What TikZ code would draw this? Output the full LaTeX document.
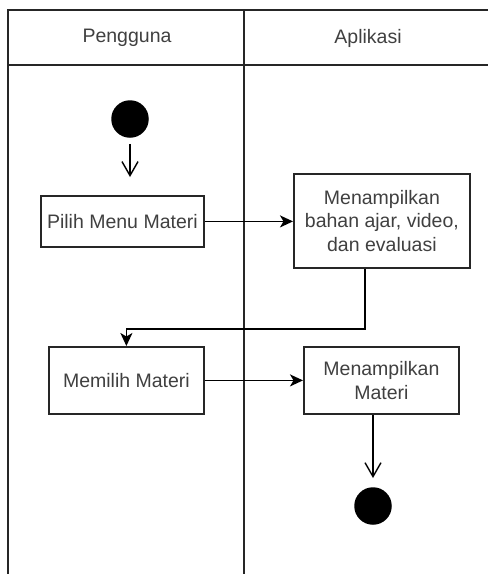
\documentclass[tikz,border=0pt]{standalone}
\usepackage{fontspec}
\setmainfont{Liberation Sans}
\usetikzlibrary{arrows.meta}
\begin{document}
\begin{tikzpicture}[x=1pt,y=-1pt,
  lane/.style={line width=1.8pt, draw=black!85},
  lanehead/.style={font=\fontsize{19.5}{23}\selectfont, text=black!75, inner sep=0pt},
  action/.style={draw=black!85, line width=1.8pt, fill=white, align=center,
    font=\fontsize{19.5}{23.5}\selectfont, text=black!75, inner sep=0pt, anchor=north west},
  dot/.style={circle, fill=black, inner sep=0pt, minimum size=37.5pt},
  flow/.style={line width=1.5pt, -{Stealth[length=13pt,width=12pt,inset=3.5pt]}},
  openflow/.style={line width=1.4pt, -{Straight Barb[length=14pt,width=16pt,line width=1.4pt]}}
]
\clip (0,0) rectangle (488,574);
\fill[white] (0,0) rectangle (488,574);

% swimlane frame
\draw[lane] (8,600) -- (8,10) -- (500,10);
\draw[lane] (8,65) -- (500,65);
\draw[lane] (244,10) -- (244,600);
\node[lanehead] (hUser) at (127,38) {Pengguna};
\node[lanehead] (hApp) at (368,38) {Aplikasi};

% start and end
\node[dot] (start) at (130,119) {};
\node[dot] (stop) at (373,506) {};

% actions
\node[action, minimum width=163pt, minimum height=51pt] (b1) at (40,195) {Pilih Menu Materi};
\node[action, minimum width=176pt, minimum height=94pt] (b2) at (293,173) {Menampilkan\\bahan ajar, video,\\dan evaluasi};
\node[action, minimum width=155pt, minimum height=67pt] (b3) at (48,346) {Memilih Materi};
\node[action, minimum width=155pt, minimum height=67pt] (b4) at (303,346) {Menampilkan\\Materi};

% flows
\draw[openflow, shorten <=6pt, shorten >=18pt] (start.south) -- (start.south |- b1.north);
\draw[flow] (b1.east) -- (b1.east -| b2.west);
\draw[flow] ([xshift=-17pt]b2.south) |- ([yshift=17pt]b3.north) -- (b3.north);
\draw[flow] (b3.east) -- (b4.west);
\draw[openflow, shorten >=9pt] (b4.south -| stop.north) -- (stop.north);
\end{tikzpicture}
\end{document}
